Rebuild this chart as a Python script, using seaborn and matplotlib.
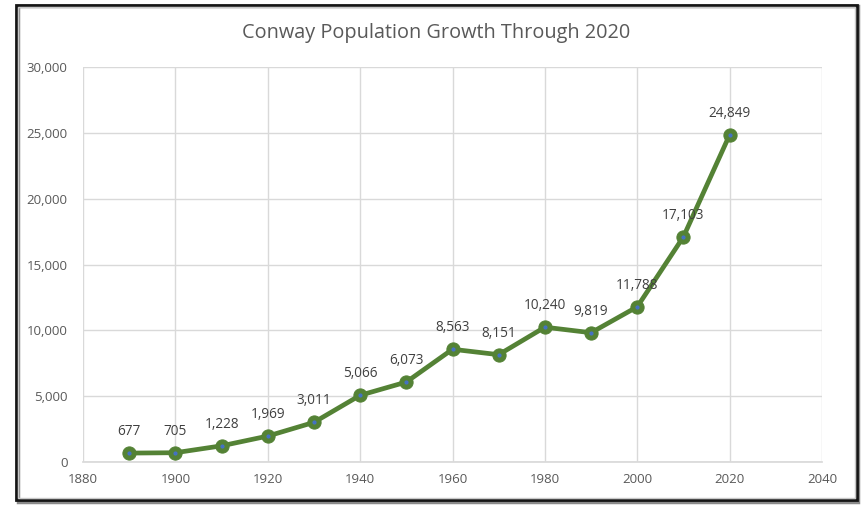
import matplotlib
matplotlib.use("Agg")
import matplotlib.pyplot as plt
import seaborn as sns
import pandas as pd
from matplotlib.patches import Rectangle
from matplotlib.ticker import FuncFormatter

years = [1890, 1900, 1910, 1920, 1930, 1940, 1950, 1960, 1970, 1980, 1990, 2000, 2010, 2020]
population = [677, 705, 1228, 1969, 3011, 5066, 6073, 8563, 8151, 10240, 9819, 11788, 17103, 24849]
title = "Conway Population Growth Through 2020"

df = pd.DataFrame({"Year": years, "Population": population})

sns.set_theme(style="white")
plt.rcParams["font.family"] = ["Open Sans", "DejaVu Sans"]

W, H = 861, 505
fig = plt.figure(figsize=(W / 100, H / 100), dpi=100)
fig.patch.set_facecolor("white")

ax = fig.add_axes([83 / W, 1 - 462 / H, (822 - 83) / W, (462 - 67) / H])
green = "#548235"
sns.lineplot(data=df, x="Year", y="Population", ax=ax, color=green, linewidth=3.4,
             marker="o", markersize=9.5, markeredgecolor=green, markerfacecolor=green,
             zorder=3)
ax.scatter(df["Year"], df["Population"], s=4, color="#4472c4", zorder=4)

for x, y in zip(years, population):
    ax.annotate(f"{y:,}", (x, y), xytext=(0, 10), textcoords="offset points",
                ha="center", va="bottom", fontsize=9.8, color="#404040")

ax.set_xlim(1880, 2040)
ax.set_ylim(0, 30000)
ax.set_xticks(range(1880, 2041, 20))
ax.set_yticks(range(0, 30001, 5000))
ax.yaxis.set_major_formatter(FuncFormatter(lambda v, p: f"{int(v):,}"))
ax.grid(True, color="#d9d9d9", linewidth=1)
ax.set_axisbelow(True)
for s in ["top", "right", "left"]:
    ax.spines[s].set_visible(False)
ax.spines["bottom"].set_color("#d9d9d9")
ax.tick_params(axis="both", length=0, labelsize=9.5, labelcolor="#595959", pad=8)
ax.tick_params(axis="y", pad=11)
ax.set_xlabel("")
ax.set_ylabel("")

fig.text(436 / W, 1 - 33 / H, title, ha="center", va="center", fontsize=14.3, color="#595959")

# frame with shadow
fig.patches.append(Rectangle((18 / W, 1 - 502 / H), 840 / W, 496 / H, transform=fig.transFigure,
                             facecolor="none", edgecolor="#8a8a8a", linewidth=2.5, zorder=0))
fig.patches.append(Rectangle((15.5 / W, 1 - 500 / H), 841 / W, 495.5 / H, transform=fig.transFigure,
                             facecolor="none", edgecolor="#151515", linewidth=2, zorder=1))
fig.patches.append(Rectangle((17.5 / W, 1 - 498 / H), 837 / W, 491.5 / H, transform=fig.transFigure,
                             facecolor="none", edgecolor="#c8c8c8", linewidth=1, zorder=1))

fig.savefig("out.png", dpi=100, facecolor="white")
